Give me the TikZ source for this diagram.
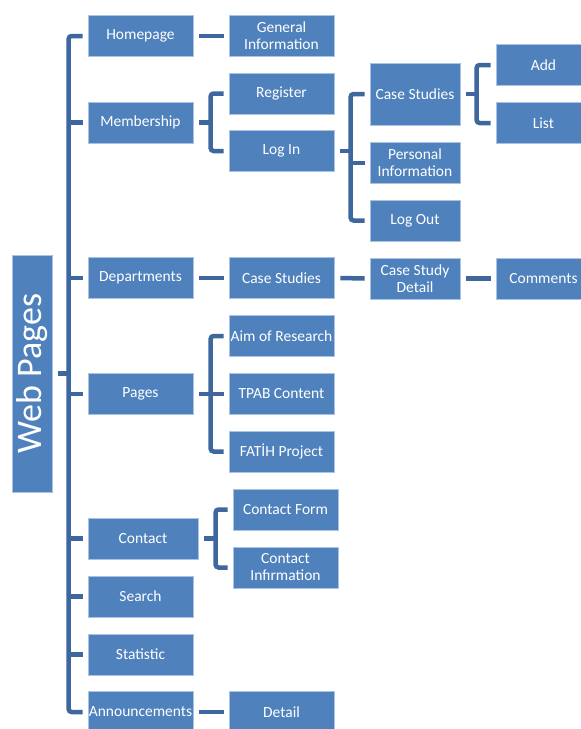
\documentclass[tikz,border=0pt]{standalone}
\usepackage{fontspec}
\setmainfont{Carlito}
\usetikzlibrary{positioning}
\definecolor{boxblue}{RGB}{79,129,189}
\definecolor{boxedge}{RGB}{170,195,226}
\definecolor{lineblue}{RGB}{62,103,158}

\tikzset{
  page/.style={rectangle,fill=boxblue,draw=boxedge,line width=0.8pt,text=white,
    align=center,inner sep=0pt,font=\fontsize{15.5}{17}\selectfont},
  lvlone/.style={page,minimum width=105pt,minimum height=41pt},
  lvltwo/.style={page,minimum width=105pt,minimum height=41pt},
  lvlthree/.style={page,minimum width=90pt,minimum height=41pt},
  lvlfour/.style={page,minimum width=95pt,minimum height=41pt},
  conn/.style={draw=lineblue,line width=4.5pt,rounded corners=3pt}
}

\begin{document}
\begin{tikzpicture}[x=1pt,y=-1pt]
\useasboundingbox (0,0) rectangle (581,729);
\clip (0,0) rectangle (581,729);

% root box
\node[page,minimum width=40pt,minimum height=237pt] (web) at (32,373.5)
  {\rotatebox{90}{\fontsize{36}{40}\selectfont Web Pages}};

% first level
\foreach \y/\name/\txt in {
36/home/Homepage,
122.5/mem/Membership,
278/dep/Departments,
394/pag/Pages,
596.5/sea/Search,
654.5/sta/Statistic,
712/ann/Announcements}
\node[lvlone] (\name) at (140.5,\y) {\txt};
\node[lvlone,minimum width=110pt] (con) at (143,538.5) {Contact};

% second level
\foreach \y/\name/\txt in {
36/gen/{General\\Information},
93.5/reg/Register,
151/login/Log In,
278/dcs/Case Studies,
336/aim/Aim of Research,
394/tpab/TPAB Content,
451.5/fatih/FAT\.{I}H Project,
712/det/Detail}
\node[lvltwo] (\name) at (281.5,\y) {\txt};
\node[lvltwo] (cform) at (285.5,509.5) {Contact Form};
\node[lvltwo] (cinfo) at (285.5,567.5) {Contact\\Inf\i rmation};

% third level
\node[lvlthree,minimum height=62pt] (mcs) at (415,94) {Case Studies};
\node[lvlthree] (pers) at (415,163) {Personal\\Information};
\node[lvlthree] (logout) at (415,220.5) {Log Out};
\node[lvlthree] (csd) at (415,278.5) {Case Study\\Detail};

% fourth level
\node[lvlfour] (add) at (543.5,65) {Add};
\node[lvlfour] (list) at (543.5,123) {List};
\node[lvlfour] (com) at (543.5,278.5) {Comments};

% main bracket
\draw[conn] ([xshift=6]web.east) -- ([xshift=-19]home.west |- web.east);
\draw[conn] ([xshift=-5]home.west) -| ([xshift=-19]ann.west) -- ([xshift=-5]ann.west);
\foreach \n in {mem,dep,pag,con,sea,sta}
\draw[conn] ([xshift=-19]\n.west) -- ([xshift=-5]\n.west);

% straight links
\foreach \a/\b in {home/gen,dep/dcs,dcs/csd,csd/com,ann/det}
\draw[conn] ([xshift=6]\a.east) -- ([xshift=-5]\b.west);

% membership bracket
\draw[conn] ([xshift=6]mem.east) -- ([xshift=-18]reg.west |- mem.east);
\draw[conn] ([xshift=-5]reg.west) -| ([xshift=-18]login.west) -- ([xshift=-5]login.west);

% log in bracket
\draw[conn] ([xshift=6]login.east) -- ([xshift=-19]mcs.west |- login.east);
\draw[conn] ([xshift=-5]mcs.west) -| ([xshift=-19]logout.west) -- ([xshift=-5]logout.west);
\draw[conn] ([xshift=-19]pers.west) -- ([xshift=-5]pers.west);

% case studies bracket
\draw[conn] ([xshift=6]mcs.east) -- ([xshift=-19]add.west |- mcs.east);
\draw[conn] ([xshift=-5]add.west) -| ([xshift=-19]list.west) -- ([xshift=-5]list.west);

% pages bracket
\draw[conn] ([xshift=6]pag.east) -- ([xshift=-18]tpab.west |- pag.east);
\draw[conn] ([xshift=-5]aim.west) -| ([xshift=-18]fatih.west) -- ([xshift=-5]fatih.west);
\draw[conn] ([xshift=-18]tpab.west) -- ([xshift=-5]tpab.west);

% contact bracket
\draw[conn] ([xshift=6]con.east) -- ([xshift=-17]cform.west |- con.east);
\draw[conn] ([xshift=-5]cform.west) -| ([xshift=-17]cinfo.west) -- ([xshift=-5]cinfo.west);
\end{tikzpicture}
\end{document}
